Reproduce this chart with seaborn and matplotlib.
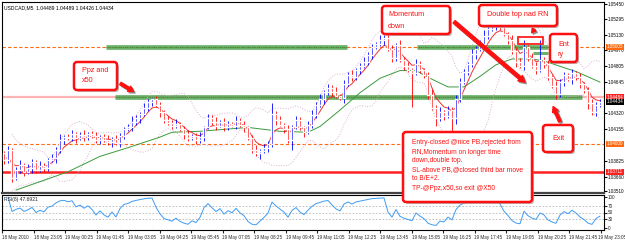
import numpy as np
import pandas as pd
import matplotlib
matplotlib.use('Agg')
import matplotlib.pyplot as plt
import matplotlib.transforms as mtrans
import seaborn as sns
from matplotlib.patches import FancyBboxPatch, Rectangle, FancyArrowPatch

sns.set_style('white')
plt.rcParams['font.family'] = ['Liberation Sans', 'DejaVu Sans']

# USDCAD M5, one candle per two bars, closes in pips above 1.04000
close_pips = [
    -17, -6, -35, -27, -22, -29, -25, -19, -27, -23, -25, -17, -15, -6, 4, 7, 6, 10, 6, 9, 7, 10, 8, 4, 7,
    4, 2, 5, 1, 8, 15, 17, 23, 27, 31, 37, 43, 46, 40, 33, 25, 22, 19, 21, 15, 10, 6, 8, 4, 7,
    17, 27, 23, 19, 23, 17, 21, 19, 24, 20, 17, 6, -6, -10, -7, -4, 0, 31, 25, 20, 15, 4, 17, 25, 17,
    12, 20, 30, 40, 46, 54, 58, 54, 50, 48, 62, 71, 69, 77, 81, 85, 92, 100, 104, 108, 110, 98, 89, 102, 87,
    81, 77, 73, 83, 77, 71, 51, 37, 27, 33, 29, 35, 27, 46, 64, 75, 83, 93, 98, 104, 112, 119, 123, 125, 121,
    114, 108, 96, 85, 81, 100, 89, 81, 77, 87, 83, 69, 60, 52, 64, 71, 67, 73, 69, 62, 56, 42, 33, 40, 43,
]
first_open = -10
wick_up = [
    3, 4, 2, 3, 5, 2, 4, 3, 2, 5, 3, 2, 4, 3, 6, 2, 3, 4, 2, 3, 5, 2, 3, 4, 2,
    3, 5, 2, 4, 3, 2, 4, 6, 3, 2, 5, 3, 2, 4, 3, 2, 4, 3, 5, 2, 3, 4, 2, 3, 5,
    2, 4, 3, 5, 2, 4, 3, 2, 5, 3, 4, 2, 3, 5, 2, 4, 3, 11, 3, 4, 2, 5, 3, 4, 3,
    2, 4, 5, 3, 6, 2, 4, 3, 5, 2, 4, 3, 6, 2, 3, 5, 3, 4, 2, 5, 3, 6, 4, 3, 6,
    3, 4, 2, 5, 3, 2, 4, 6, 3, 5, 2, 4, 3, 5, 4, 3, 2, 5, 3, 4, 6, 3, 5, 4, 3,
    4, 2, 5, 3, 4, 8, 3, 5, 4, 21, 3, 4, 2, 5, 3, 4, 2, 5, 3, 4, 2, 3, 5, 3, 4,
]
wick_dn = [
    4, 3, 5, 2, 3, 4, 2, 5, 3, 2, 4, 3, 2, 5, 3, 4, 2, 3, 5, 2, 4, 3, 2, 3, 4,
    2, 3, 5, 2, 4, 3, 2, 4, 3, 5, 2, 3, 4, 2, 5, 3, 2, 4, 3, 2, 5, 3, 2, 4, 3,
    4, 2, 3, 5, 2, 4, 3, 2, 4, 3, 5, 2, 4, 3, 6, 2, 4, 3, 5, 2, 4, 3, 10, 2, 3,
    5, 2, 4, 3, 2, 5, 3, 4, 2, 3, 6, 2, 4, 3, 5, 2, 3, 4, 2, 3, 5, 2, 4, 3, 2,
    4, 3, 35, 2, 4, 3, 5, 2, 8, 3, 4, 2, 14, 6, 3, 2, 4, 3, 5, 2, 4, 3, 2, 5, 3,
    2, 4, 3, 5, 2, 4, 3, 2, 5, 3, 4, 3, 2, 6, 3, 4, 2, 5, 3, 4, 3, 6, 3, 4, 2,
]

# slow MA (x50)
green_idx = [3, 16, 24, 31, 39, 42, 49, 61, 69, 76, 79, 84, 89, 94, 99, 103, 106, 111, 115, 119, 123, 127, 132, 135, 140, 143, 149]
green_pips = [-48, -29, -13, -4, 7, 12, 13, 17, 13, 12, 18, 35, 53, 68, 76, 76, 69, 59, 59, 70, 82, 88, 88, 86, 79, 75, 64]

time_labels = ['18 May 2010', '18 May 23:05', '19 May 00:25', '19 May 01:45', '19 May 03:05',
               '19 May 04:25', '19 May 05:45', '19 May 07:05', '19 May 08:25', '19 May 09:45',
               '19 May 11:05', '19 May 12:25', '19 May 13:45', '19 May 15:05', '19 May 16:25',
               '19 May 17:45', '19 May 19:05', '19 May 20:25', '19 May 21:45', '19 May 23:05']
price_ticks = [1.05450, 1.05295, 1.05130, 1.04970, 1.04805, 1.04645, 1.04320, 1.04155, 1.03825, 1.03660, 1.03510]
rsi_ticks = [100, 70, 50, 30, 0]

level_high = 1.05005
level_ppz = 1.04484
level_round = 1.04000
level_sl = 1.03711
bid = 1.04434
level_entry = 1.04942

close = 1.04 + np.array(close_pips) / 10000
opn = np.r_[1.04 + first_open / 10000, close[:-1]]
hi = np.maximum(opn, close) + np.array(wick_up) / 10000
lo = np.minimum(opn, close) - np.array(wick_dn) / 10000
idx = np.arange(len(close))
df = pd.DataFrame({'i': idx, 'open': opn, 'close': close, 'high': hi, 'low': lo})
df['ema'] = df['close'].ewm(span=5, adjust=False).mean()
df['mid'] = df['close'].rolling(10, min_periods=3).mean()
df['sd'] = df['close'].rolling(10, min_periods=3).std()
df['bb_up'] = df['mid'] + 2 * df['sd']
df['bb_dn'] = df['mid'] - 2 * df['sd']
delta = df['close'].diff()
gain = delta.clip(lower=0).ewm(alpha=1 / 4, adjust=False).mean()
loss = (-delta.clip(upper=0)).ewm(alpha=1 / 4, adjust=False).mean()
df['rsi'] = 100 - 100 / (1 + gain / loss)

W, H = 625, 242
fig = plt.figure(figsize=(W / 100, H / 100), dpi=100)
fig.patch.set_facecolor('white')


def rect(x0, y0, x1, y1):
    return [x0 / W, 1 - y1 / H, (x1 - x0) / W, (y1 - y0) / H]


ax = fig.add_axes(rect(2, 2, 604, 193))
ax_rsi = fig.add_axes(rect(2, 195, 604, 230), sharex=ax)
xmin, xmax = -0.5, 150
small = 3.3

# horizontal levels
ax.axhline(level_high, color='#FF6A10', lw=0.8, ls=(0, (3, 2)), zorder=1)
ax.axhline(level_round, color='#FF6A10', lw=0.8, ls=(0, (3, 2)), zorder=1)
ax.axhline(level_sl, color='#FF2020', lw=1.8, zorder=1)
ax.axhline(level_ppz, color='#FFB4B4', lw=1.6, zorder=1)
for x0, x1, lvl in [(25.5, 85.75, level_high), (103.25, 136, level_high), (27.75, 144.5, level_ppz)]:
    ax.hlines(lvl, x0, x1, color='#4FA64F', lw=3.4, alpha=0.85, zorder=2)
    ax.hlines(lvl, x0, x1, color='#2E5E2E', lw=0.5, ls=':', zorder=2)
ax.hlines(level_entry, 132.25, 136, color='#4FA64F', lw=2.2, alpha=0.85, zorder=2)

# bollinger + moving averages
sns.lineplot(x=df['i'], y=df['bb_up'], ax=ax, color='#D9B0CF', lw=0.7, ls=':', zorder=3)
sns.lineplot(x=df['i'], y=df['bb_dn'], ax=ax, color='#D9B0CF', lw=0.7, ls=':', zorder=3)
sns.lineplot(x=green_idx, y=1.04 + np.array(green_pips) / 10000, ax=ax, color='#3C9A3C', lw=0.7, zorder=4)
sns.lineplot(x=df['i'], y=df['ema'], ax=ax, color='#F03030', lw=0.7, zorder=4)

# candles
cols = np.where(df['close'] >= df['open'], '#0000FF', '#FF0000')
ax.vlines(df['i'], df['low'], df['high'], colors=cols, lw=0.6, zorder=5)
ax.bar(df['i'], df['close'] - df['open'], bottom=df['open'], width=0.5, color=cols, zorder=5)

ax.add_patch(Rectangle((128.5, 1.04 + 103.5 / 10000), 6.25, 7.3 / 10000, fill=False,
                       ec='#FF2020', lw=1.3, zorder=6))

ax.set_xlim(xmin, xmax)
ax.set_ylim(1.03490, 1.05471)
ax.yaxis.tick_right()
ax.set_yticks(price_ticks)
ax.set_yticklabels([f'{p:.5f}' for p in price_ticks])
ax.tick_params(axis='y', labelsize=small, length=2, pad=1, colors='black')
ax.tick_params(axis='x', bottom=False, labelbottom=False)
ax.set_xlabel('')
ax.set_ylabel('')
for s in ax.spines.values():
    s.set_color('black')
    s.set_linewidth(0.8)
ax.spines['bottom'].set_color('#444444')
ax.spines['bottom'].set_linewidth(1.6)

for lvl, txt, bg in [(level_high, '1.05005', '#FF6A10'), (level_ppz, '1.04484', '#FF2020'),
                     (bid, '1.04434', 'black'), (level_round, '1.04000', '#FF6A10'),
                     (level_sl, '1.03711', '#FF2020')]:
    ax.text(1.0045, lvl, txt, transform=ax.get_yaxis_transform(), fontsize=small, color='white',
            va='center', ha='left', zorder=10, clip_on=False,
            bbox=dict(boxstyle='square,pad=0.15', fc=bg, ec='none'))

ax.text(0.004, 0.985, 'USDCAD,M5  1.04489 1.04489 1.04426 1.04434', transform=ax.transAxes,
        fontsize=3.6, va='top', ha='left', color='black')

# RSI panel
for lvl in [70, 50, 30]:
    ax_rsi.axhline(lvl, color='#B8B8B8', lw=0.6, ls=(0, (2, 2)))
sns.lineplot(x=df['i'], y=df['rsi'], ax=ax_rsi, color='#3E9BF5', lw=0.7)
ax_rsi.set_ylim(-6.5, 106.5)
ax_rsi.yaxis.tick_right()
ax_rsi.set_yticks(rsi_ticks)
ax_rsi.set_yticklabels([str(t) for t in rsi_ticks])
ax_rsi.tick_params(axis='y', labelsize=small, length=2, pad=1)
ax_rsi.set_xticks([xmin + 7.875 * k for k in range(len(time_labels))])
ax_rsi.set_xticklabels(time_labels, ha='left')
ax_rsi.tick_params(axis='x', labelsize=small, length=2, pad=1.5, bottom=True)
# last date label sits on the right edge; nudge it in a little
last = ax_rsi.get_xticklabels()[-1]
last.set_transform(last.get_transform() + mtrans.ScaledTranslation(-0.025, 0, fig.dpi_scale_trans))
ax_rsi.set_xlabel('')
ax_rsi.set_ylabel('')
for s in ax_rsi.spines.values():
    s.set_color('black')
    s.set_linewidth(0.8)
ax_rsi.text(0.004, 0.93, 'RSI(8) 47.6921', transform=ax_rsi.transAxes, fontsize=3.6, va='top', ha='left')

# annotation overlay in pixel units
ov = fig.add_axes([0, 0, 1, 1], zorder=20)
ov.set_xlim(0, W)
ov.set_ylim(H, 0)
ov.axis('off')
ov.patch.set_alpha(0)


def callout(x0, y0, x1, y1, lines, fs=5.2, tx=None):
    ov.add_patch(FancyBboxPatch((x0 + 2, y0 + 2), x1 - x0, y1 - y0,
                                boxstyle='round,pad=0,rounding_size=3', fc='#9A9A9A', ec='none', alpha=0.7))
    ov.add_patch(FancyBboxPatch((x0, y0), x1 - x0, y1 - y0,
                                boxstyle='round,pad=0,rounding_size=3', fc='white', ec='#FF1010', lw=1.8))
    for ty, t in lines:
        ov.text(x0 + (tx if tx is not None else 7), ty, t, color='#FF1010', fontsize=fs, va='center', ha='left')


def arrow(p0, p1, w=2.4):
    style = f'simple,head_width={w * 1.8},head_length={w * 1.6},tail_width={w * 0.8}'
    ov.add_patch(FancyArrowPatch((p0[0] + 1.5, p0[1] + 1.5), (p1[0] + 1.5, p1[1] + 1.5),
                                 arrowstyle=style, color='#777777', mutation_scale=1, alpha=0.7))
    ov.add_patch(FancyArrowPatch(p0, p1, arrowstyle=style, color='#FF1010', mutation_scale=1))


callout(74, 62, 117, 90, [(70, 'Ppz and'), (81, 'x50')], tx=8)
arrow((118, 82), (136, 93))
callout(382, 6, 450, 34, [(15, 'Momentum'), (26, 'down')], tx=6)
arrow((452, 20), (527, 84), w=2.8)
callout(479, 5, 557, 26, [(15, 'Double top nad RN')], tx=8)
arrow((536, 27), (530, 35), w=1.8)
callout(550, 34, 577, 62, [(44, 'Ent'), (55, 'ry')], tx=8)
callout(543, 125, 573, 152, [(138, 'Exit')], tx=9)
arrow((561, 124), (552, 104))
callout(403, 132, 532, 202, [(143, 'Entry-closed @nice PB,rejected from'),
                             (152, 'RN,Momentum on longer time'),
                             (161, 'down,double top.'),
                             (170, 'SL-above PB,@closed third bar move'),
                             (179, 'to B/E+2.'),
                             (188, 'TP-@Ppz,x50,so exit @X50')], fs=4.8, tx=9)

fig.savefig('out.png', dpi=100, facecolor='white')
